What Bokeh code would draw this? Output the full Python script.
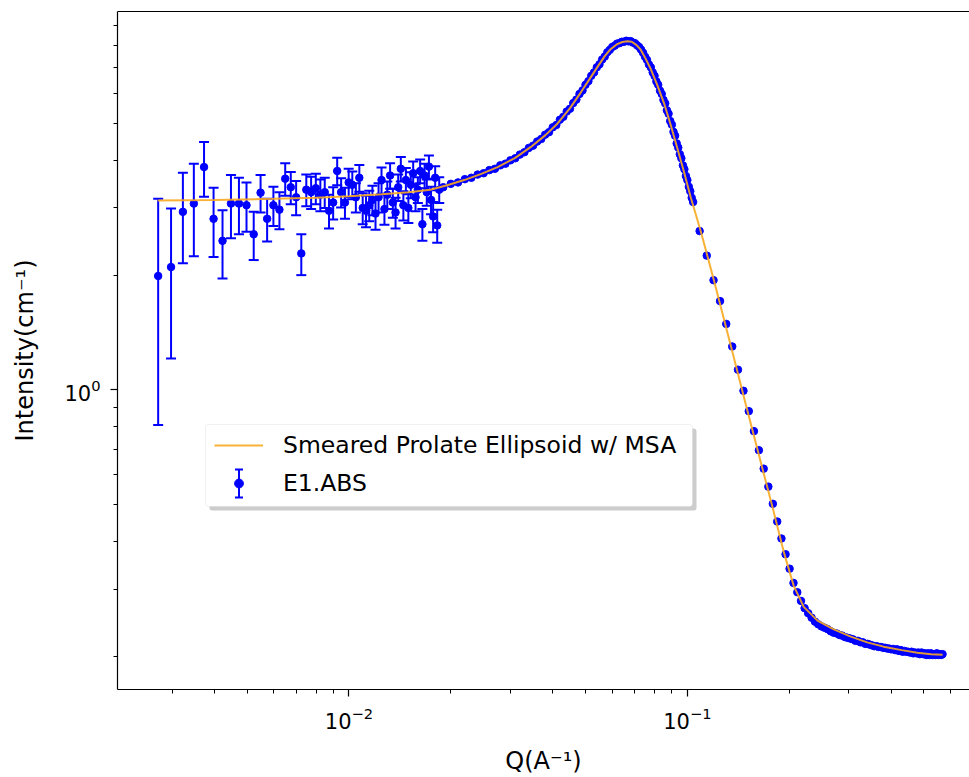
import numpy as np
from bokeh.plotting import figure
from bokeh.models import (ColumnDataSource, Whisker, TeeHead, FixedTicker, LogAxis,
                          Legend, LegendItem, BoxAnnotation, Range1d, LogTickFormatter)
from bokeh.embed import file_html
from bokeh.resources import INLINE

# ---------------- data ----------------
# low-Q measurement (with visible error bars)
q_low = [0.00273, 0.00298, 0.00323, 0.00348, 0.00373, 0.00398, 0.00423, 0.00448, 0.00473, 0.00498,
         0.00523, 0.00548, 0.00573, 0.00598, 0.00623, 0.00648, 0.00673, 0.00698, 0.00723, 0.00748,
         0.00773, 0.00798, 0.00823, 0.00848, 0.00873, 0.00898, 0.00923, 0.00948, 0.00973, 0.00998,
         0.01023, 0.01048, 0.01073, 0.01098, 0.01123, 0.01148, 0.01173, 0.01198, 0.01223, 0.01248,
         0.01273, 0.01298, 0.01323, 0.01348, 0.01373, 0.01398, 0.01423, 0.01448, 0.01473, 0.01498,
         0.01523, 0.01548, 0.01573, 0.01598, 0.01623, 0.01648, 0.01673, 0.01698, 0.01723, 0.01748,
         0.01773, 0.01798, 0.01823, 0.01848]
i_low = [1.99, 2.10, 2.93, 3.08, 3.84, 2.81, 2.46, 3.08, 3.08, 3.05,
         2.56, 3.29, 2.81, 3.05, 2.97, 3.58, 3.40, 3.20, 2.28, 3.35,
         3.30, 3.38, 3.25, 3.30, 2.95, 3.10, 3.75, 3.30, 3.10, 3.50,
         3.45, 3.20, 3.60, 3.00, 2.95, 3.05, 3.15, 2.90, 3.20, 3.55,
         2.98, 3.25, 3.65, 3.10, 2.92, 3.40, 3.80, 3.05, 3.55, 3.00,
         3.45, 3.70, 3.20, 3.35, 3.75, 2.72, 3.65, 3.30, 3.85, 3.15,
         2.85, 3.60, 2.70, 3.35]
e_low = [1.18, 0.89, 0.78, 0.84, 0.63, 0.58, 0.50, 0.58, 0.52, 0.45,
         0.37, 0.37, 0.36, 0.36, 0.33, 0.35, 0.33, 0.33, 0.28, 0.32,
         0.32, 0.31, 0.31, 0.30, 0.30, 0.30, 0.31, 0.29, 0.29, 0.30,
         0.29, 0.28, 0.29, 0.28, 0.28, 0.28, 0.28, 0.27, 0.28, 0.28,
         0.27, 0.27, 0.28, 0.27, 0.27, 0.27, 0.28, 0.27, 0.27, 0.26,
         0.27, 0.27, 0.26, 0.26, 0.27, 0.26, 0.27, 0.26, 0.27, 0.26,
         0.26, 0.26, 0.27, 0.26]

# mid-Q measurement
q_mid = [0.019, 0.020, 0.021, 0.022, 0.023, 0.024, 0.025, 0.026, 0.027, 0.028,
         0.029, 0.030, 0.031, 0.032, 0.033, 0.034, 0.035, 0.036, 0.037, 0.038,
         0.039, 0.040, 0.041, 0.042, 0.043, 0.044, 0.045, 0.046, 0.047, 0.048,
         0.049, 0.050, 0.051, 0.052, 0.053, 0.054, 0.055, 0.056, 0.057, 0.058,
         0.059, 0.060, 0.061, 0.062, 0.063, 0.064, 0.065, 0.066, 0.067, 0.068,
         0.069, 0.070, 0.071, 0.072, 0.073, 0.074, 0.075, 0.076, 0.077, 0.078,
         0.079, 0.080, 0.081, 0.082, 0.083, 0.084, 0.085, 0.086, 0.087, 0.088,
         0.089, 0.090, 0.091, 0.092, 0.093, 0.094, 0.095, 0.096, 0.097, 0.098,
         0.099, 0.100, 0.101, 0.102, 0.103, 0.104]
i_mid = [3.40, 3.47, 3.50, 3.57, 3.60, 3.67, 3.70, 3.77, 3.80, 3.88,
         3.92, 4.00, 4.05, 4.14, 4.20, 4.31, 4.37, 4.48, 4.55, 4.67,
         4.74, 4.88, 4.95, 5.11, 5.20, 5.37, 5.46, 5.65, 5.77, 5.97,
         6.10, 6.31, 6.45, 6.66, 6.80, 7.01, 7.14, 7.35, 7.48, 7.68,
         7.79, 7.93, 7.99, 8.09, 8.11, 8.18, 8.18, 8.23, 8.20, 8.21,
         8.14, 8.11, 8.01, 7.93, 7.80, 7.65, 7.47, 7.33, 7.13, 7.01,
         6.80, 6.66, 6.44, 6.31, 6.09, 5.97, 5.76, 5.64, 5.41, 5.30,
         5.07, 4.96, 4.75, 4.64, 4.43, 4.32, 4.15, 4.05, 3.88, 3.79,
         3.64, 3.55, 3.41, 3.32, 3.19, 3.11]

# high-Q measurement
q_high = [0.1087, 0.1141, 0.1195, 0.1249, 0.1303, 0.1357, 0.1411, 0.1465, 0.1519, 0.1573,
          0.1627, 0.1681, 0.1735, 0.1789, 0.1843, 0.1897, 0.1951, 0.2005, 0.2059, 0.2113,
          0.2167, 0.2221, 0.2275, 0.2329, 0.2383, 0.2437, 0.2491, 0.2545, 0.2599, 0.2653,
          0.2707, 0.2761, 0.2815, 0.2869, 0.2923, 0.2977, 0.3031, 0.3085, 0.3139, 0.3193,
          0.3247, 0.3301, 0.3355, 0.3409, 0.3463, 0.3517, 0.3571, 0.3625, 0.3679, 0.3733,
          0.3787, 0.3841, 0.3895, 0.3949, 0.4003, 0.4057, 0.4111, 0.4165, 0.4219, 0.4273,
          0.4327, 0.4381, 0.4435, 0.4489, 0.4543, 0.4597, 0.4651, 0.4705, 0.4759, 0.4813,
          0.4867, 0.4921, 0.4975, 0.5029, 0.5083, 0.5137, 0.5191, 0.5245, 0.5299, 0.5353,
          0.5407, 0.5461, 0.5515, 0.5569, 0.5623, 0.5677]
i_high = [2.61, 2.25, 1.94, 1.71, 1.49, 1.30, 1.13, 0.995, 0.88, 0.78,
          0.695, 0.622, 0.558, 0.503, 0.452, 0.408, 0.371, 0.340, 0.312, 0.295,
          0.280, 0.268, 0.260, 0.253, 0.247, 0.243, 0.240, 0.238, 0.236, 0.233,
          0.231, 0.230, 0.228, 0.227, 0.225, 0.224, 0.223, 0.222, 0.220, 0.220,
          0.218, 0.218, 0.216, 0.216, 0.215, 0.214, 0.213, 0.213, 0.212, 0.212,
          0.211, 0.211, 0.210, 0.210, 0.209, 0.2095, 0.208, 0.209, 0.207, 0.208,
          0.206, 0.207, 0.206, 0.206, 0.205, 0.206, 0.204, 0.205, 0.204, 0.205,
          0.203, 0.205, 0.203, 0.204, 0.202, 0.204, 0.202, 0.204, 0.202, 0.203,
          0.202, 0.204, 0.202, 0.203, 0.202, 0.203]

# model curve
q_model = [0.00272, 0.004, 0.006, 0.008, 0.010, 0.0125, 0.015, 0.0174, 0.0195, 0.0219,
           0.0245, 0.0275, 0.031, 0.0344, 0.038, 0.0413, 0.045, 0.0484, 0.0515, 0.0542,
           0.057, 0.0593, 0.0618, 0.0643, 0.0665, 0.0685, 0.0708, 0.0728, 0.0752, 0.0779,
           0.0815, 0.0853, 0.0893, 0.0934, 0.0978, 0.1023, 0.1095, 0.1198, 0.1343, 0.1487,
           0.1647, 0.1787, 0.1926, 0.2061, 0.2207, 0.2424, 0.270, 0.304, 0.340, 0.380,
           0.430, 0.4785, 0.525, 0.568]
i_model = [3.14, 3.15, 3.17, 3.19, 3.22, 3.26, 3.30, 3.35, 3.44, 3.55,
           3.68, 3.84, 4.06, 4.33, 4.65, 4.99, 5.48, 6.02, 6.55, 7.02,
           7.50, 7.82, 8.05, 8.17, 8.21, 8.18, 8.02, 7.80, 7.40, 6.95,
           6.30, 5.65, 4.95, 4.30, 3.72, 3.20, 2.61, 1.94, 1.31, 0.919,
           0.648, 0.491, 0.377, 0.307, 0.270, 0.2485, 0.236, 0.2256, 0.218, 0.2124,
           0.208, 0.2048, 0.203, 0.2024]

model_label = "Smeared Prolate Ellipsoid w/ MSA"
data_label = "E1.ABS"

x_major = [0.01, 0.1]
x_minor = [0.003, 0.004, 0.005, 0.006, 0.007, 0.008, 0.009,
           0.02, 0.03, 0.04, 0.05, 0.06, 0.07, 0.08, 0.09,
           0.2, 0.3, 0.4, 0.5, 0.6]
y_major = [1.0]
y_minor = [0.2, 0.3, 0.4, 0.5, 0.6, 0.7, 0.8, 0.9, 2, 3, 4, 5, 6, 7, 8, 9]

# ---------------- figure ----------------
FONT = "DejaVu Sans"
p = figure(width=969, height=777, x_axis_type="log", y_axis_type="log",
           x_range=Range1d(0.00207, 0.682), y_range=Range1d(0.164, 9.82),
           output_backend="svg", toolbar_location=None,
           min_border_left=117, min_border_right=0, min_border_top=11, min_border_bottom=87)
p.outline_line_color = None
p.xgrid.visible = False
p.ygrid.visible = False
p.background_fill_color = "white"
p.border_fill_color = "white"

q_arr = np.array(q_low)
i_arr = np.array(i_low)
e_arr = np.array(e_low)
src_low = ColumnDataSource(dict(q=q_arr, up=i_arr + e_arr, lo=i_arr - e_arr))
wh = Whisker(source=src_low, base="q", upper="up", lower="lo", dimension="height",
             line_color="blue", line_width=2,
             upper_head=TeeHead(size=10, line_color="blue", line_width=2),
             lower_head=TeeHead(size=10, line_color="blue", line_width=2))
p.add_layout(wh)

q_all = list(q_low) + list(q_mid) + list(q_high)
i_all = list(i_low) + list(i_mid) + list(i_high)
pts = p.scatter(q_all, i_all, size=7.5, fill_color="blue", line_color="blue", line_width=1)

model_r = p.line(q_model, i_model, line_color="#f7a81f", line_width=2, line_alpha=0.9)

for ax, major, minor in ((p.xaxis, x_major, x_minor), (p.yaxis, y_major, y_minor)):
    ax.ticker = FixedTicker(ticks=major, minor_ticks=minor)
    ax.formatter = LogTickFormatter()
    ax.major_tick_out = 7
    ax.major_tick_in = 0
    ax.minor_tick_out = 4
    ax.minor_tick_in = 0
    ax.axis_line_width = 1.2
    ax.major_tick_line_width = 1.2
    ax.minor_tick_line_width = 1.0
    ax.axis_line_color = "black"
    ax.major_tick_line_color = "black"
    ax.minor_tick_line_color = "black"
    ax.major_label_text_font = FONT
    ax.major_label_text_font_size = "21px"
    ax.major_label_text_color = "black"
    ax.axis_label_text_font = FONT
    ax.axis_label_text_font_size = "24px"
    ax.axis_label_text_font_style = "normal"
    ax.axis_label_text_color = "black"
    ax.axis_label_text_line_height = 1.0

p.xaxis.axis_label = "Q(A\u207b\u00b9)"
p.yaxis.axis_label = "Intensity(cm\u207b\u00b9)"
p.xaxis.major_label_standoff = 10
p.xaxis.axis_label_standoff = 15
p.yaxis.major_label_standoff = 10
p.yaxis.axis_label_standoff = 22

top_axis = LogAxis(ticker=FixedTicker(ticks=[]), major_label_text_font_size="0px",
                   major_tick_out=0, minor_tick_out=0, major_tick_in=0, minor_tick_in=0,
                   axis_line_width=1.2, axis_line_color="black", major_label_standoff=0)
p.add_layout(top_axis, "above")


def screen_box(l, r, b, t, **kw):
    """A box placed in screen units relative to the plot frame (legend decoration)."""
    return BoxAnnotation(left=l, right=r, bottom=b, top=t,
                         left_units="screen", right_units="screen",
                         top_units="screen", bottom_units="screen", **kw)


# legend frame: drop shadow, then white rounded box with light border
p.add_layout(screen_box(92, 579, 179, 261, fill_color="#999999", fill_alpha=0.5,
                        line_color=None, border_radius=3))
p.add_layout(screen_box(88, 575, 183, 265, fill_color="white", fill_alpha=1.0,
                        line_color="#cccccc", line_width=1, border_radius=3))
# error-bar symbol for the data entry (bar + two caps)
for (l, r, b, t) in ((120.5, 122.5, 192, 220), (117.5, 125.5, 191, 193), (117.5, 125.5, 219, 221)):
    p.add_layout(screen_box(l, r, b, t, fill_color="blue", fill_alpha=1.0, line_color=None))

# transparent legend (no border -> no padding), placed inside the box above
legend = Legend(items=[LegendItem(label=model_label, renderers=[model_r]),
                       LegendItem(label=data_label, renderers=[pts])],
                location=(97, 192), padding=9, spacing=10, margin=0,
                glyph_width=49, glyph_height=22, label_height=27, label_standoff=20,
                label_width=400,
                label_text_font=FONT, label_text_font_size="23.5px", label_text_color="black",
                border_line_color=None, background_fill_alpha=0.0)
p.add_layout(legend)

open("out.html", "w").write(file_html(p, INLINE))
